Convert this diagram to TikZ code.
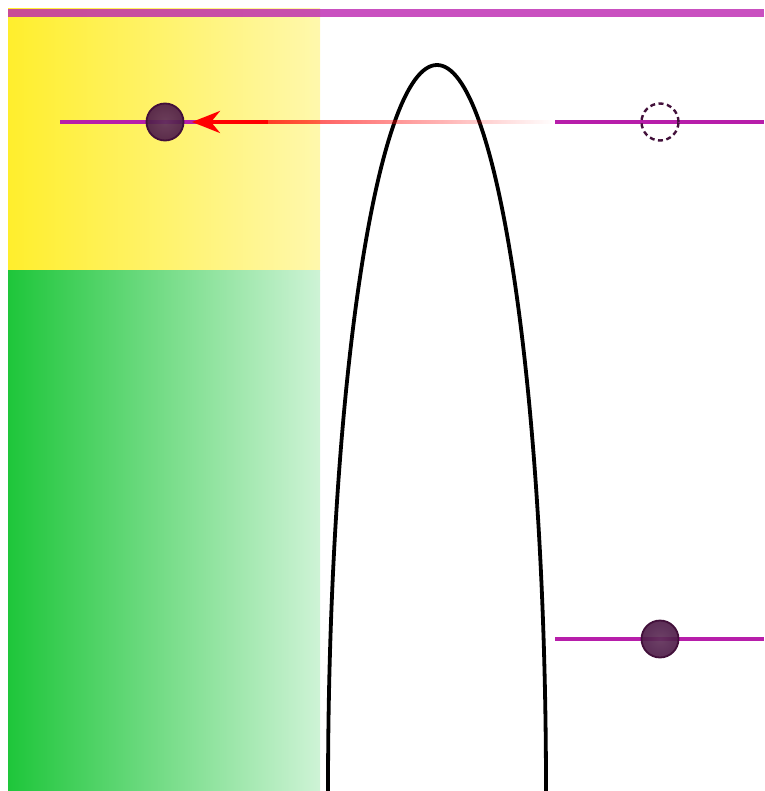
\documentclass[tikz,border=0pt]{standalone}
\usetikzlibrary{arrows.meta,fadings}
\definecolor{yelL}{RGB}{255,238,45}
\definecolor{yelR}{RGB}{255,248,172}
\definecolor{grnL}{RGB}{30,198,58}
\definecolor{grnR}{RGB}{206,243,214}
\definecolor{barc}{RGB}{187,36,176}
\definecolor{levc}{RGB}{183,30,170}
\definecolor{ballc}{RGB}{78,28,72}
\definecolor{ballin}{RGB}{96,48,90}
\definecolor{balle}{RGB}{66,16,58}
\tikzfading[name=fadeR, left color=transparent!0, right color=transparent!100]
\tikzset{
  level/.style={draw=levc, line width=3.2pt},
  ball/.style={circle, minimum size=37pt, inner sep=0pt, inner color=ballin, outer color=ballc, fill opacity=0.92, draw=balle, line width=1.8pt},
  hole/.style={circle, minimum size=37pt, inner sep=0pt, draw=balle, line width=2.4pt, dash pattern=on 5pt off 3.5pt},
  barrier/.style={draw=black, line width=3.8pt},
}
\begin{document}
\begin{tikzpicture}[x=1pt,y=-1pt]
\useasboundingbox (0,0) rectangle (764,791);
\clip (0,0) rectangle (764,791);
% bands
\shade[left color=yelL, right color=yelR] (8,9) rectangle (320,270);
\shade[left color=grnL, right color=grnR] (8,270) rectangle (320,791);
% top bar
\fill[barc, opacity=0.8] (8,9) rectangle (764,17);
% barrier
\draw[barrier] (328,791) arc[start angle=180, end angle=360, x radius=109, y radius=726];
% levels
\coordinate (l1a) at (60,122);
\coordinate (l1b) at (200,122);
\coordinate (r1a) at (555,122);
\coordinate (r1b) at (764,122);
\coordinate (r2a) at (555,639);
\coordinate (r2b) at (764,639);
\draw[level] (l1a) -- (l1b);
\draw[level] (r1a) -- (r1b);
\draw[level] (r2a) -- (r2b);
% tunnelling arrow
\coordinate (fs) at (268,122);
\coordinate (tip) at (192,122);
\fill[red, opacity=0.75, path fading=fadeR] (268,120) rectangle (555,124);
\draw[red, line width=4pt, -{Stealth[length=28pt, width=22pt, inset=9pt]}] (fs) -- (tip);
% particles
\node[ball] (p1) at (165,122) {};
\node[hole] (p2) at (660,122) {};
\node[ball] (p3) at (660,639) {};
\end{tikzpicture}
\end{document}
